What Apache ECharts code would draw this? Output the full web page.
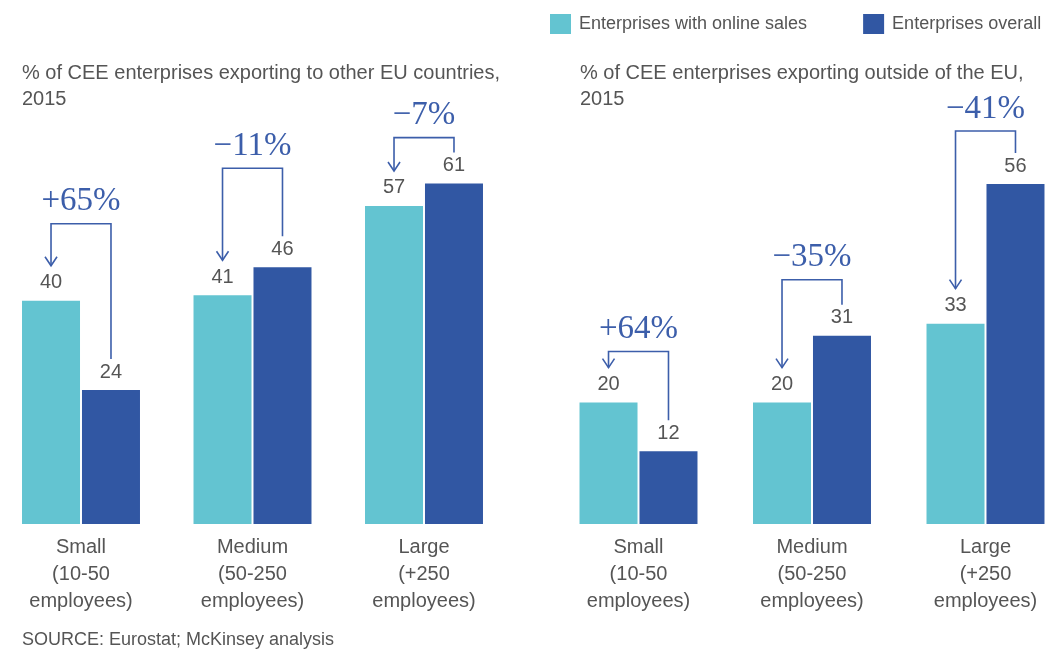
<!DOCTYPE html>
<html>
<head>
<meta charset="utf-8">
<script src="https://cdn.jsdelivr.net/npm/echarts@6/dist/echarts.min.js"></script>
<style>
  html, body { margin: 0; padding: 0; background: #fff; }
  #chart { width: 1050px; height: 650px; }
</style>
</head>
<body>
<div id="chart"></div>
<script>
// Company size bands
const categories = ['Small\n(10-50\nemployees)', 'Medium\n(50-250\nemployees)', 'Large\n(+250\nemployees)'];

// % of CEE enterprises exporting to other EU countries, 2015
const euOnline = [40, 41, 57];
const euOverall = [24, 46, 61];
const euChange = ['+65%', '\u221211%', '\u22127%'];

// % of CEE enterprises exporting outside of the EU, 2015
const nonEuOnline = [20, 20, 33];
const nonEuOverall = [12, 31, 56];
const nonEuChange = ['+64%', '\u221235%', '\u221241%'];

const seriesNames = ['Enterprises with online sales', 'Enterprises overall'];
const panelTitles = [
  '% of CEE enterprises exporting to other EU countries,\n2015',
  '% of CEE enterprises exporting outside of the EU,\n2015'
];

// Layout: how far each bracket rises above the taller bar of its pair (px)
const bracketRise = [[77, 99, 46], [51, 56, 53]];

const CYAN = '#63c4d1';
const BLUE = '#3157a3';
const ACCENT = '#3c5eaa';
const TEXT = '#555555';
const SANS = 'Liberation Sans, Arial, sans-serif';

const chart = echarts.init(document.getElementById('chart'), null, { renderer: 'canvas' });

function barSeries(name, data, axis, color) {
  return {
    name: name,
    type: 'bar',
    xAxisIndex: axis,
    yAxisIndex: axis,
    data: data,
    barWidth: 58,
    barGap: '3.4%',
    itemStyle: { color: color },
    label: {
      show: true,
      position: 'top',
      distance: 8,
      color: TEXT,
      fontSize: 20,
      fontFamily: SANS
    },
    emphasis: { disabled: true }
  };
}

const xAxisBase = {
  type: 'category',
  data: categories,
  axisLine: { show: false },
  axisTick: { show: false },
  axisLabel: {
    color: TEXT,
    fontSize: 20,
    fontFamily: SANS,
    lineHeight: 27,
    margin: 10,
    interval: 0
  }
};
const yAxisBase = {
  type: 'value',
  min: 0,
  max: 70,
  show: false,
  splitLine: { show: false }
};

const titleStyle = { color: TEXT, fontSize: 20, fontWeight: 'normal', fontFamily: SANS, lineHeight: 26 };

chart.setOption({
  animation: false,
  textStyle: { fontFamily: SANS },
  legend: {
    data: seriesNames,
    left: 550,
    top: 14,
    padding: 0,
    icon: 'rect',
    itemWidth: 21,
    itemHeight: 20,
    itemGap: 56,
    textStyle: { color: TEXT, fontSize: 18, fontFamily: SANS, padding: [0, 0, 0, 3] },
    selectedMode: false
  },
  title: [
    { text: panelTitles[0], left: 22, top: 60, padding: 0, textStyle: titleStyle },
    { text: panelTitles[1], left: 580, top: 60, padding: 0, textStyle: titleStyle }
  ],
  grid: [
    { left: -4.75, width: 514.5, top: 133.4, bottom: 126, outerBoundsMode: 'none', containLabel: false },
    { left: 551.75, width: 520.5, top: 99, bottom: 126, outerBoundsMode: 'none', containLabel: false }
  ],
  xAxis: [
    Object.assign({ gridIndex: 0 }, xAxisBase),
    Object.assign({ gridIndex: 1 }, xAxisBase)
  ],
  yAxis: [
    Object.assign({ gridIndex: 0 }, yAxisBase),
    Object.assign({ gridIndex: 1 }, yAxisBase)
  ],
  series: [
    barSeries(seriesNames[0], euOnline, 0, CYAN),
    barSeries(seriesNames[1], euOverall, 0, BLUE),
    barSeries(seriesNames[0], nonEuOnline, 1, CYAN),
    barSeries(seriesNames[1], nonEuOverall, 1, BLUE)
  ]
});

// Change brackets: from the overall bar, across, and down to the online bar
function barGeom(seriesIndex, dataIndex) {
  const lay = chart.getModel().getSeriesByIndex(seriesIndex).getData().getItemLayout(dataIndex);
  return { cx: lay.x + lay.width / 2, top: Math.min(lay.y, lay.y + lay.height) };
}

const changes = [euChange, nonEuChange];
const graphics = [];
for (let p = 0; p < 2; p++) {
  for (let j = 0; j < categories.length; j++) {
    const on = barGeom(p * 2, j);
    const ov = barGeom(p * 2 + 1, j);
    const level = Math.min(on.top, ov.top) - bracketRise[p][j];
    const tip = on.top - 35;
    graphics.push({
      type: 'polyline',
      silent: true,
      shape: { points: [[ov.cx, ov.top - 31], [ov.cx, level], [on.cx, level], [on.cx, tip]] },
      style: { stroke: ACCENT, lineWidth: 1.6, fill: null }
    });
    graphics.push({
      type: 'polyline',
      silent: true,
      shape: { points: [[on.cx - 6, tip - 9], [on.cx, tip], [on.cx + 6, tip - 9]] },
      style: { stroke: ACCENT, lineWidth: 1.6, fill: null }
    });
    graphics.push({
      type: 'text',
      silent: true,
      x: (on.cx + ov.cx) / 2,
      y: level - 22,
      style: {
        text: changes[p][j],
        fill: ACCENT,
        font: '33px "Liberation Serif", "Times New Roman", serif',
        align: 'center',
        verticalAlign: 'middle'
      }
    });
  }
}
graphics.push({
  type: 'text',
  silent: true,
  x: 22,
  y: 640,
  style: {
    text: 'SOURCE: Eurostat; McKinsey analysis',
    fill: TEXT,
    font: '18px ' + SANS,
    verticalAlign: 'middle'
  }
});

chart.setOption({ graphic: graphics });
</script>
</body>
</html>
